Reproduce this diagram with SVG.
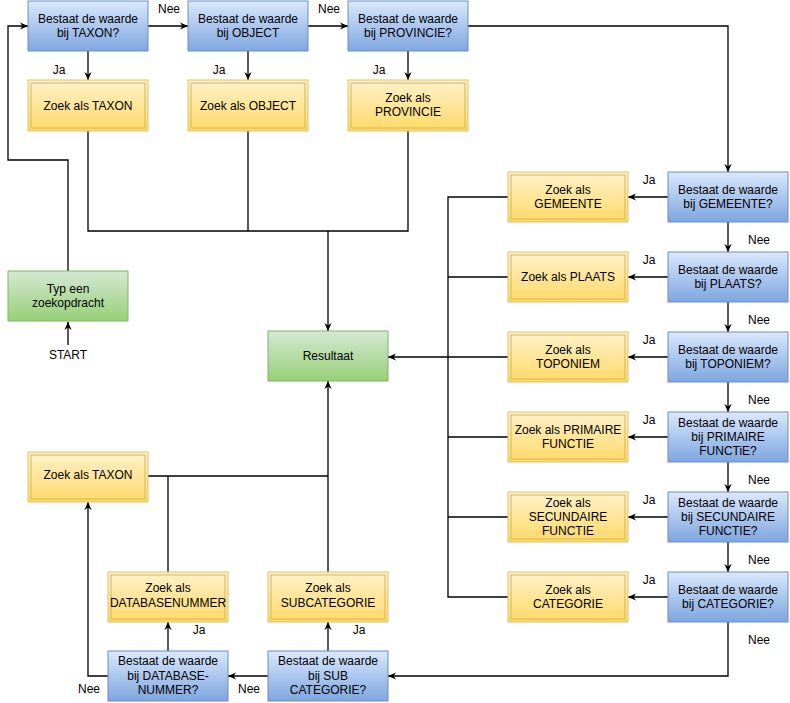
<svg xmlns="http://www.w3.org/2000/svg" width="790" height="703" viewBox="0 0 790 703">
<defs>
<linearGradient id="gB" x1="0" y1="0" x2="0" y2="1"><stop offset="0" stop-color="#dae8fc"/><stop offset="1" stop-color="#7ea6e0"/></linearGradient>
<linearGradient id="gY" x1="0" y1="0" x2="0" y2="1"><stop offset="0" stop-color="#fff2cc"/><stop offset="1" stop-color="#ffd966"/></linearGradient>
<linearGradient id="gG" x1="0" y1="0" x2="0" y2="1"><stop offset="0" stop-color="#d5e8d4"/><stop offset="1" stop-color="#97d077"/></linearGradient>
<marker id="arr" viewBox="0 0 10 10" refX="10" refY="5" markerWidth="8" markerHeight="8" markerUnits="userSpaceOnUse" orient="auto">
<path d="M0,0.5 L10,5 L0,9.5 L3,5 Z" fill="#000"/>
</marker>
<style>
.b rect{fill:url(#gB);stroke:#6c8ebf;stroke-width:1}
.y rect.o{fill:url(#gY);stroke:#e0c46c;stroke-width:1}
.y rect.i{fill:none;stroke:#d6b656;stroke-width:1}
.g rect{fill:url(#gG);stroke:#82b366;stroke-width:1}
text{font-family:"Liberation Sans",Arial,sans-serif;font-size:12px;fill:#000;text-anchor:middle}
.c path{fill:none;stroke:#000;stroke-width:1.3}
.c path.a{marker-end:url(#arr)}
</style>
</defs>
<g class="c" id="connectors">
<path class="a" d="M148,26 H188"/>
<path class="a" d="M308,26 H348"/>
<path class="a" d="M468,26 H728 V172"/>
<path class="a" d="M88,51 V80"/>
<path class="a" d="M248,51 V80"/>
<path class="a" d="M408,51 V80"/>
<path class="a" d="M68,271 V160 H8 V26 H28"/>
<path class="a" d="M68,345 V322"/>
<path d="M88,131 V231 H408 V131 M248,131 V231"/>
<path class="a" d="M328,231 V331"/>
<path class="a" d="M668,197 H628"/>
<path class="a" d="M668,277 H628"/>
<path class="a" d="M668,357 H628"/>
<path class="a" d="M668,437 H628"/>
<path class="a" d="M668,517 H628"/>
<path class="a" d="M668,597 H628"/>
<path class="a" d="M728,222 V252"/>
<path class="a" d="M728,302 V332"/>
<path class="a" d="M728,382 V412"/>
<path class="a" d="M728,462 V492"/>
<path class="a" d="M728,542 V572"/>
<path d="M508,197 H448 V597 H508 M448,277 H508 M448,357 H508 M448,437 H508 M448,517 H508"/>
<path class="a" d="M448,357 H388"/>
<path class="a" d="M728,622 V676 H388"/>
<path class="a" d="M268,676 H228"/>
<path class="a" d="M108,676 H88 V502"/>
<path class="a" d="M328,651 V622"/>
<path class="a" d="M168,651 V622"/>
<path d="M168,572 V476 M148,476 H328"/>
<path class="a" d="M328,572 V381"/>
</g>
<g id="labels">
<text x="169" y="13">Nee</text>
<text x="329" y="13">Nee</text>
<text x="59" y="74">Ja</text>
<text x="219" y="74">Ja</text>
<text x="379" y="74">Ja</text>
<text x="649" y="184">Ja</text>
<text x="649" y="264">Ja</text>
<text x="649" y="344">Ja</text>
<text x="649" y="424">Ja</text>
<text x="649" y="504">Ja</text>
<text x="649" y="584">Ja</text>
<text x="759" y="244">Nee</text>
<text x="759" y="324">Nee</text>
<text x="759" y="404">Nee</text>
<text x="759" y="484">Nee</text>
<text x="759" y="564">Nee</text>
<text x="759" y="644">Nee</text>
<text x="249" y="693">Nee</text>
<text x="89" y="693">Nee</text>
<text x="359" y="634">Ja</text>
<text x="199" y="634">Ja</text>
<text x="68" y="359">START</text>
</g>
<g id="q-taxon" class="b"><rect x="28" y="1" width="120" height="50"/><text x="88" y="23">Bestaat de waarde</text><text x="88" y="37">bij TAXON?</text></g>
<g id="q-object" class="b"><rect x="188" y="1" width="120" height="50"/><text x="248" y="23">Bestaat de waarde</text><text x="248" y="37">bij OBJECT</text></g>
<g id="q-provincie" class="b"><rect x="348" y="1" width="120" height="50"/><text x="408" y="23">Bestaat de waarde</text><text x="408" y="37">bij PROVINCIE?</text></g>
<g id="z-taxon" class="y"><rect class="o" x="28" y="80" width="120" height="51"/><rect class="i" x="31" y="83" width="114" height="45"/><text x="88" y="110">Zoek als TAXON</text></g>
<g id="z-object" class="y"><rect class="o" x="188" y="80" width="120" height="51"/><rect class="i" x="191" y="83" width="114" height="45"/><text x="248" y="110">Zoek als OBJECT</text></g>
<g id="z-provincie" class="y"><rect class="o" x="348" y="80" width="120" height="51"/><rect class="i" x="351" y="83" width="114" height="45"/><text x="408" y="102">Zoek als</text><text x="408" y="116">PROVINCIE</text></g>
<g id="start" class="g"><rect x="8" y="271" width="120" height="50"/><text x="68" y="293">Typ een</text><text x="68" y="307">zoekopdracht</text></g>
<g id="resultaat" class="g"><rect x="268" y="331" width="120" height="50"/><text x="328" y="360">Resultaat</text></g>
<g id="q-gemeente" class="b"><rect x="668" y="172" width="120" height="50"/><text x="728" y="194">Bestaat de waarde</text><text x="728" y="208">bij GEMEENTE?</text></g>
<g id="q-plaats" class="b"><rect x="668" y="252" width="120" height="50"/><text x="728" y="274">Bestaat de waarde</text><text x="728" y="288">bij PLAATS?</text></g>
<g id="q-toponiem" class="b"><rect x="668" y="332" width="120" height="50"/><text x="728" y="354">Bestaat de waarde</text><text x="728" y="368">bij TOPONIEM?</text></g>
<g id="q-primaire" class="b"><rect x="668" y="412" width="120" height="50"/><text x="728" y="427">Bestaat de waarde</text><text x="728" y="441">bij PRIMAIRE</text><text x="728" y="455">FUNCTiE?</text></g>
<g id="q-secundaire" class="b"><rect x="668" y="492" width="120" height="50"/><text x="728" y="507">Bestaat de waarde</text><text x="728" y="521">bij SECUNDAIRE</text><text x="728" y="535">FUNCTIE?</text></g>
<g id="q-categorie" class="b"><rect x="668" y="572" width="120" height="50"/><text x="728" y="594">Bestaat de waarde</text><text x="728" y="608">bij CATEGORIE?</text></g>
<g id="z-gemeente" class="y"><rect class="o" x="508" y="172" width="120" height="50"/><rect class="i" x="511" y="175" width="114" height="44"/><text x="568" y="194">Zoek als</text><text x="568" y="208">GEMEENTE</text></g>
<g id="z-plaats" class="y"><rect class="o" x="508" y="252" width="120" height="50"/><rect class="i" x="511" y="255" width="114" height="44"/><text x="568" y="281">Zoek als PLAATS</text></g>
<g id="z-toponiem" class="y"><rect class="o" x="508" y="332" width="120" height="50"/><rect class="i" x="511" y="335" width="114" height="44"/><text x="568" y="354">Zoek als</text><text x="568" y="368">TOPONIEM</text></g>
<g id="z-primaire" class="y"><rect class="o" x="508" y="412" width="120" height="50"/><rect class="i" x="511" y="415" width="114" height="44"/><text x="568" y="434">Zoek als PRIMAIRE</text><text x="568" y="448">FUNCTIE</text></g>
<g id="z-secundaire" class="y"><rect class="o" x="508" y="492" width="120" height="50"/><rect class="i" x="511" y="495" width="114" height="44"/><text x="568" y="507">Zoek als</text><text x="568" y="521">SECUNDAIRE</text><text x="568" y="535">FUNCTIE</text></g>
<g id="z-categorie" class="y"><rect class="o" x="508" y="572" width="120" height="50"/><rect class="i" x="511" y="575" width="114" height="44"/><text x="568" y="594">Zoek als</text><text x="568" y="608">CATEGORIE</text></g>
<g id="z-taxon2" class="y"><rect class="o" x="28" y="452" width="120" height="50"/><rect class="i" x="31" y="455" width="114" height="44"/><text x="88" y="479">Zoek als TAXON</text></g>
<g id="z-databasenummer" class="y"><rect class="o" x="108" y="572" width="120" height="50"/><rect class="i" x="111" y="575" width="114" height="44"/><text x="168" y="592">Zoek als</text><text x="168" y="607">DATABASENUMMER</text></g>
<g id="z-subcategorie" class="y"><rect class="o" x="268" y="572" width="120" height="50"/><rect class="i" x="271" y="575" width="114" height="44"/><text x="328" y="592">Zoek als</text><text x="328" y="607">SUBCATEGORIE</text></g>
<g id="q-databasenummer" class="b"><rect x="108" y="651" width="120" height="50"/><text x="168" y="665">Bestaat de waarde</text><text x="168" y="680">bij DATABASE-</text><text x="168" y="694">NUMMER?</text></g>
<g id="q-subcategorie" class="b"><rect x="268" y="651" width="120" height="50"/><text x="328" y="665">Bestaat de waarde</text><text x="328" y="680">bij SUB</text><text x="328" y="694">CATEGORIE?</text></g>
</svg>
